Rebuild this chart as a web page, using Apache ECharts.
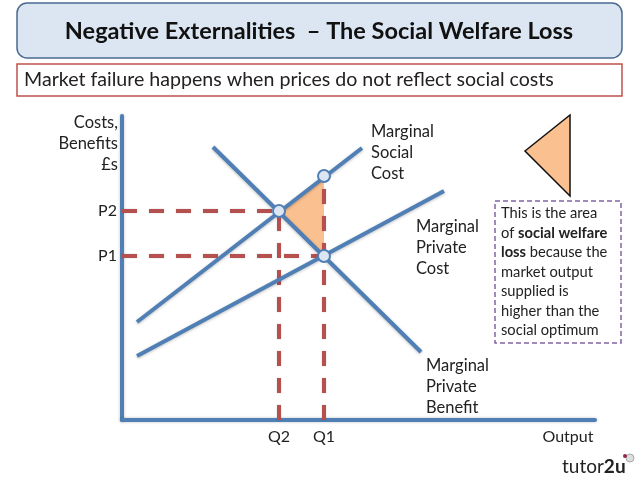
<!DOCTYPE html>
<html>
    <head>
        <meta charset="utf-8">
        <script src="https://cdn.jsdelivr.net/npm/echarts@6/dist/echarts.min.js"></script>
        <title>Negative Externalities</title>
        <style>
            html, body { margin: 0; padding: 0; background: #fff; }
            #main { position: absolute; top: 0; left: 0; width: 638px; height: 479px; }
        </style>
    </head>
    <body>
        <div id="main"></div>
        <script type="text/javascript">
            // values, axis units = distance from the origin
            var socialCost = [[15, 98], [240, 272]];
            var privateCost = [[15, 64], [322, 229]];
            var privateBenefit = [[91, 273], [299, 68]];
            var p2Guide = [[0, 209], [157, 209]];
            var p1Guide = [[0, 164], [202, 164]];
            var q2Guide = [[157, 0], [157, 209]];
            var q1Guide = [[202, 0], [202, 244]];
            var lossArea = [[157, 209], [202, 244], [202, 164]];
            var markers = [[157, 209], [202, 244], [202, 164]];
            var xTickValues = [157, 202, 446];
            var xTickLabels = ['Q2', 'Q1', 'Output'];
            var yTickValues = [164, 209];
            var yTickLabels = ['P1', 'P2'];

            var FONT = 'Lato';
            var BLUE = '#4f7fb5';
            var RED = '#b5504f';
            var ORANGE = '#fac08f';

            function lineSeries(data) {
                return {
                    type: 'line', data: data, symbol: 'none', silent: true, z: 3,
                    lineStyle: { color: BLUE, width: 4, shadowBlur: 3, shadowColor: 'rgba(0,0,0,0.25)', shadowOffsetY: 1 }
                };
            }
            function guideSeries(data) {
                return {
                    type: 'line', data: data, symbol: 'none', silent: true, z: 2,
                    lineStyle: { color: RED, width: 4, type: [15, 12], shadowBlur: 2, shadowColor: 'rgba(0,0,0,0.2)' }
                };
            }
            function label(x, y, str, align) {
                return {
                    type: 'text', x: x, y: y, silent: true,
                    style: { text: str, font: '16.5px ' + FONT, fill: '#222', lineHeight: 21, align: align || 'left', verticalAlign: 'top' }
                };
            }

            var myChart = echarts.init(document.getElementById('main'), null, { renderer: 'canvas' });
            var option = {
                animation: false,
                backgroundColor: '#fff',
                grid: { left: 122, top: 116, width: 473, height: 304 },
                xAxis: {
                    type: 'value', min: 0, max: 473, splitLine: { show: false },
                    axisLine: { onZero: false, lineStyle: { color: BLUE, width: 4, shadowBlur: 3, shadowColor: 'rgba(0,0,0,0.25)' } },
                    axisTick: { show: false },
                    axisLabel: {
                        customValues: xTickValues, margin: 9, color: '#222', fontFamily: FONT, fontSize: 16,
                        formatter: function (v) { return xTickLabels[xTickValues.indexOf(v)]; }
                    }
                },
                yAxis: {
                    type: 'value', min: 0, max: 304, splitLine: { show: false },
                    axisLine: { onZero: false, lineStyle: { color: BLUE, width: 4, shadowBlur: 3, shadowColor: 'rgba(0,0,0,0.25)' } },
                    axisTick: { show: false },
                    axisLabel: {
                        customValues: yTickValues, margin: 5, color: '#222', fontFamily: FONT, fontSize: 16,
                        formatter: function (v) { return yTickLabels[yTickValues.indexOf(v)]; }
                    }
                },
                series: [
                    {
                        type: 'custom', silent: true, z: 1, data: [0],
                        renderItem: function (params, api) {
                            return {
                                type: 'polygon',
                                shape: { points: lossArea.map(function (p) { return api.coord(p); }) },
                                style: { fill: ORANGE }
                            };
                        }
                    },
                    guideSeries(p2Guide),
                    guideSeries(p1Guide),
                    guideSeries(q2Guide),
                    guideSeries(q1Guide),
                    lineSeries(socialCost),
                    lineSeries(privateCost),
                    lineSeries(privateBenefit),
                    {
                        type: 'scatter', data: markers, symbolSize: 12, silent: true, z: 4,
                        itemStyle: { color: '#dce6f2', borderColor: BLUE, borderWidth: 2, opacity: 1 }
                    }
                ],
                graphic: [
                    {
                        type: 'rect', shape: { x: 17, y: 3, width: 605, height: 55, r: 10 }, silent: true,
                        style: { fill: '#dce6f2', stroke: '#4a6a90', lineWidth: 1.5 }
                    },
                    {
                        type: 'text', x: 319, y: 31, silent: true,
                        style: { text: 'Negative Externalities  \u2013 The Social Welfare Loss', font: 'bold 23.5px ' + FONT, fill: '#111', align: 'center', verticalAlign: 'middle' }
                    },
                    {
                        type: 'rect', shape: { x: 17, y: 64, width: 605, height: 32 }, silent: true,
                        style: { fill: '#fff', stroke: '#c0504d', lineWidth: 1.5 }
                    },
                    {
                        type: 'text', x: 24, y: 80, silent: true,
                        style: { text: 'Market failure happens when prices do not reflect social costs', font: '19.6px ' + FONT, fill: '#222', verticalAlign: 'middle' }
                    },
                    label(118, 112, 'Costs,\nBenefits\n\u00a3s', 'right'),
                    label(371, 121, 'Marginal\nSocial\nCost'),
                    label(416, 216, 'Marginal\nPrivate\nCost'),
                    label(426, 355, 'Marginal\nPrivate\nBenefit'),
                    {
                        type: 'polygon', shape: { points: [[570, 115], [570, 196], [525, 151]] }, silent: true,
                        style: { fill: ORANGE, stroke: '#111', lineWidth: 1.5 }
                    },
                    {
                        type: 'rect', shape: { x: 495, y: 201, width: 126, height: 142 }, silent: true,
                        style: { fill: '#fff', stroke: '#8064a2', lineWidth: 1.5, lineDash: [5, 3] }
                    },
                    {
                        type: 'text', x: 501, y: 204, silent: true,
                        style: {
                            text: 'This is the area\nof {b|social welfare}\n{b|loss} because the\nmarket output\nsupplied is\nhigher than the\nsocial optimum',
                            font: '14.7px ' + FONT, fill: '#222', lineHeight: 19.5, verticalAlign: 'top',
                            rich: { b: { fontWeight: 'bold', fontFamily: FONT, fontSize: 14.7, lineHeight: 19.5, fill: '#222' } }
                        }
                    },
                    {
                        type: 'text', x: 562, y: 457, silent: true,
                        style: {
                            text: 'tutor{b|2u}', font: '19px ' + FONT, fill: '#222', verticalAlign: 'top',
                            rich: { b: { fontWeight: 'bold', fontFamily: FONT, fontSize: 19, fill: '#222' } }
                        }
                    },
                    { type: 'circle', shape: { cx: 630, cy: 458, r: 4 }, silent: true, style: { fill: '#ddd', stroke: '#aaa', lineWidth: 1 } },
                    { type: 'circle', shape: { cx: 625, cy: 456, r: 2 }, silent: true, style: { fill: '#8a2a4a' } }
                ]
            };
            myChart.setOption(option);
        </script>
    </body>
</html>
